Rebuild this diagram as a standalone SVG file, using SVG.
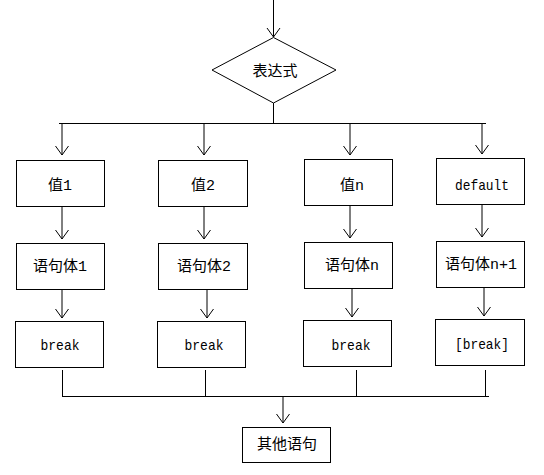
<svg xmlns="http://www.w3.org/2000/svg" width="544" height="475" viewBox="0 0 544 475">
<style>
.b{fill:#fff;stroke:#000;stroke-width:1}
.c{fill:none;stroke:#000;stroke-width:1}
text{font-family:"Liberation Mono","Noto Sans CJK SC",monospace;fill:#000;text-anchor:middle;font-size:15px}
.z{font-family:"Noto Sans CJK SC",sans-serif}
.m{font-size:15px}
</style>
<defs>
<marker id="a" markerWidth="12" markerHeight="16" refX="10" refY="7" orient="auto" markerUnits="userSpaceOnUse" viewBox="0 0 12 14">
<path d="M1,0.5 L10,7 L1,13.5" fill="none" stroke="#000" stroke-width="1"/>
</marker>
</defs>
<rect width="544" height="475" fill="#fff"/>
<g id="connectors" class="c">
<path d="M273.5,0 V37" marker-end="url(#a)"/>
<path d="M273.5,103 V123.5 M59,123.5 H486"/>
<path d="M62,123.5 V155" marker-end="url(#a)"/>
<path d="M204,123.5 V155" marker-end="url(#a)"/>
<path d="M350,123.5 V155" marker-end="url(#a)"/>
<path d="M482,123.5 V154" marker-end="url(#a)"/>
<path d="M62,206 V239" marker-end="url(#a)"/>
<path d="M204,206 V239" marker-end="url(#a)"/>
<path d="M350,205 V238" marker-end="url(#a)"/>
<path d="M482,204 V237" marker-end="url(#a)"/>
<path d="M62,290 V318" marker-end="url(#a)"/>
<path d="M207,290 V318" marker-end="url(#a)"/>
<path d="M352,289 V317" marker-end="url(#a)"/>
<path d="M484,288 V316" marker-end="url(#a)"/>
<path d="M62.5,370 V396.5 M205.5,370 V396.5 M356.5,370 V396.5 M485.5,370 V396.5 M62,396.5 H489"/>
<path d="M283,396.5 V423" marker-end="url(#a)"/>
</g>
<g id="expr"><polygon class="b" points="273.5,37.5 336,70 273.5,103 212,70"/><text class="z" x="275" y="76">表达式</text></g>
<g id="v1"><rect class="b" x="16.5" y="160.5" width="88" height="46"/><text x="60" y="190"><tspan class="z">值</tspan><tspan>1</tspan></text></g>
<g id="v2"><rect class="b" x="158.5" y="160.5" width="89" height="46"/><text x="203" y="190"><tspan class="z">值</tspan><tspan>2</tspan></text></g>
<g id="vn"><rect class="b" x="304.5" y="159.5" width="88" height="46"/><text x="352" y="190"><tspan class="z">值</tspan><tspan>n</tspan></text></g>
<g id="vd"><rect class="b" x="436.5" y="158.5" width="88" height="46"/><text x="482" y="190" textLength="54" lengthAdjust="spacingAndGlyphs">default</text></g>
<g id="s1"><rect class="b" x="16.5" y="243.5" width="88" height="46"/><text x="60" y="271"><tspan class="z">语句体</tspan><tspan>1</tspan></text></g>
<g id="s2"><rect class="b" x="158.5" y="243.5" width="89" height="46"/><text x="204" y="271"><tspan class="z">语句体</tspan><tspan>2</tspan></text></g>
<g id="sn"><rect class="b" x="304.5" y="242.5" width="88" height="46"/><text x="352" y="270"><tspan class="z">语句体</tspan><tspan>n</tspan></text></g>
<g id="sd"><rect class="b" x="436.5" y="241.5" width="88" height="46"/><text x="481" y="269"><tspan class="z">语句体</tspan><tspan>n+1</tspan></text></g>
<g id="b1"><rect class="b" x="15.5" y="321.5" width="88" height="46"/><text x="60" y="350" textLength="39" lengthAdjust="spacingAndGlyphs">break</text></g>
<g id="b2"><rect class="b" x="157.5" y="321.5" width="88" height="46"/><text x="204" y="350" textLength="39" lengthAdjust="spacingAndGlyphs">break</text></g>
<g id="bn"><rect class="b" x="303.5" y="320.5" width="88" height="46"/><text x="351" y="350" textLength="39" lengthAdjust="spacingAndGlyphs">break</text></g>
<g id="bd"><rect class="b" x="435.5" y="319.5" width="89" height="46"/><text x="482" y="349" textLength="54" lengthAdjust="spacingAndGlyphs">[break]</text></g>
<g id="other"><rect class="b" x="242.5" y="427.5" width="88" height="35"/><text class="z" x="287" y="449">其他语句</text></g>
</svg>
